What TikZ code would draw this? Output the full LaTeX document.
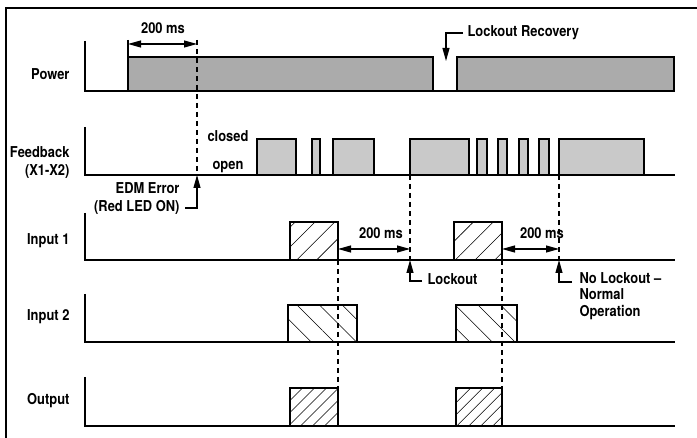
\documentclass[tikz,border=0pt]{standalone}
\usepackage{fontspec}
\setmainfont{TeX Gyre Heros}[FakeStretch=0.86]
\usetikzlibrary{arrows.meta,patterns.meta}

\begin{document}
\begin{tikzpicture}[x=1pt,y=-1pt,line width=1.1pt,
  lbl/.style={font=\bfseries\fontsize{15}{18}\selectfont, inner sep=0pt, align=right},
  pwrbox/.style={draw, fill=black!33, line width=1.4pt},
  fbbox/.style={draw, fill=black!21, line width=1.2pt},
  hatchin/.style={draw, line width=1.2pt, pattern={Lines[angle=45,distance=14pt,line width=0.6pt]}},
  hatchtwo/.style={draw, line width=1.2pt, pattern={Lines[angle=-45,distance=16pt,line width=0.6pt]}},
  hatchout/.style={draw, line width=1.2pt, pattern={Lines[angle=45,distance=8.5pt,line width=0.6pt]}},
  dashln/.style={line width=1.1pt, dash pattern=on 5pt off 4pt},
  tip/.style={-{Triangle[length=13pt,width=7pt]}},
  both/.style={{Triangle[length=13pt,width=7pt]}-{Triangle[length=13pt,width=7pt]}}]
\useasboundingbox (0,0) rectangle (697,438);

% Frame
\draw[line width=2pt] (6,438) -- (6,8) -- (697,8);

% Signal names
\node[lbl, anchor=east] (power) at (70,74) {Power};
\node[lbl, anchor=east] (feedback) at (70,163) {Feedback\\(X1-X2)};
\node[lbl, anchor=east] (input1) at (70,241) {Input 1};
\node[lbl, anchor=east] (input2) at (70,317) {Input 2};
\node[lbl, anchor=east] (output) at (70,401) {Output};

% Power
\draw (85,41) -- (85,91) -- (674,91);
\draw[pwrbox] (128,57) rectangle (433,91);
\draw[pwrbox] (457,57) rectangle (674,91);
\draw (128,40) -- (128,57);

% Feedback
\draw (85,127) -- (85,175) -- (675,175);
\foreach \a/\b in {257/296,312/320,333/374,410/469,477/487,498/507,519/528,539/549,559/644}
  \draw[fbbox] (\a,139) rectangle (\b,175);
\node[lbl] (closed) at (228,136) {closed};
\node[lbl] (open) at (228,167) {open};

% Input 1
\draw (85,213) -- (85,260) -- (675,260);
\draw[hatchin] (290,222) rectangle (338,260);
\draw[hatchin] (454,222) rectangle (502,260);

% Input 2
\draw (85,294) -- (85,342) -- (675,342);
\draw[hatchtwo] (288,305) rectangle (357,342);
\draw[hatchtwo] (456,305) rectangle (517,342);

% Output
\draw (85,377) -- (85,426) -- (675,426);
\draw[hatchout] (290,388) rectangle (338,426);
\draw[hatchout] (456,388) rectangle (502,426);

% Timing marks
\coordinate (edmpt) at (197,175);
\coordinate (lockpt) at (410,260);
\coordinate (nolockpt) at (559,260);
\draw[dashln] (197,40) -- (edmpt);
\draw[dashln] (410,175) -- (lockpt);
\draw[dashln] (559,175) -- (nolockpt);
\draw[dashln] (338,260) -- (338,426);
\draw[dashln] (502,260) -- (502,426);

% 200 ms delays
\node[lbl] (delayA) at (163,28) {200 ms};
\draw[both] (128,44) -- (197,44);
\node[lbl] (delayB) at (381,233) {200 ms};
\draw[both] (338,249) -- (410,249);
\node[lbl] (delayC) at (542,233) {200 ms};
\draw[both] (502,249) -- (559,249);

% Callouts
\node[lbl, anchor=west] (recovery) at (467,33) {Lockout Recovery};
\coordinate (recpt) at (446,61);
\draw[tip] (463,33) -| (recpt);

\node[lbl, anchor=east] (edm) at (180,199) {EDM Error\\(Red LED ON)};
\coordinate (edmfoot) at (185,208);
\draw[tip] (edmfoot) -| (edmpt);

\node[lbl, anchor=west] (lockout) at (427,279) {Lockout};
\coordinate (lockfoot) at (422,281);
\draw[tip] (lockfoot) -| (lockpt);

\node[lbl, anchor=north west, align=left, font=\bfseries\fontsize{15}{16.5}\selectfont] (nolock) at (579,272) {No Lockout --\\Normal\\Operation};
\coordinate (nolockfoot) at (572,282);
\draw[tip] (nolockfoot) -| (nolockpt);
\end{tikzpicture}
\end{document}
